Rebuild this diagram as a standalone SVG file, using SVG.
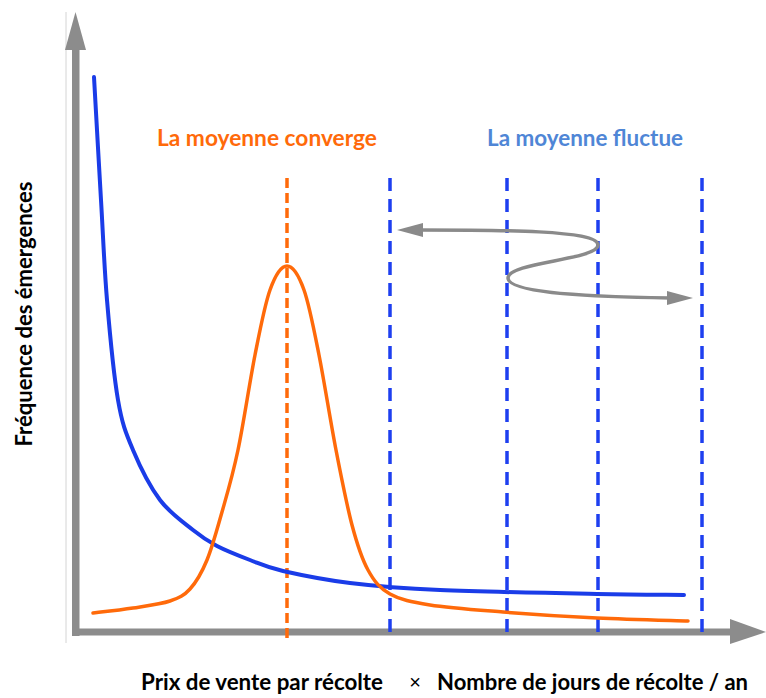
<svg xmlns="http://www.w3.org/2000/svg" width="766" height="698" viewBox="0 0 766 698">
<style>
.lbl{font-family:Lato,"Open Sans","Liberation Sans",sans-serif;font-weight:bold;font-size:23px}
.axis{fill:#8c8c8c}
.bdash{stroke:#1e3ff0;stroke-width:3.5;stroke-dasharray:13 8;fill:none}
.odash{stroke:#ff6a0a;stroke-width:3.5;stroke-dasharray:10 5;fill:none}
.curve{fill:none;stroke-linejoin:round;stroke-linecap:round}
</style>
<rect width="766" height="698" fill="#ffffff"/>
<line x1="66" y1="12" x2="66" y2="643" stroke="#d4d4d4" stroke-width="1"/>
<g id="axes">
<rect class="axis" x="72" y="48" width="7.5" height="588"/>
<polygon class="axis" points="75.5,12 86,50 65,50"/>
<rect class="axis" x="72" y="628.5" width="660" height="7"/>
<polygon class="axis" points="766,632 730,619 730,644"/>
</g>
<g id="dashed-lines">
<line class="odash" x1="287" y1="178" x2="287" y2="640"/>
<line class="bdash" x1="390" y1="178" x2="390" y2="640"/>
<line class="bdash" x1="507" y1="178" x2="507" y2="640"/>
<line class="bdash" x1="598" y1="178" x2="598" y2="640"/>
<line class="bdash" x1="702" y1="178" x2="702" y2="640"/>
</g>
<g id="blue-curve">
<path class="curve" stroke="#1a3ce8" stroke-width="4" d="M94,77 C95.2,97.5 98.8,162.8 101,200 C103.2,237.2 104.2,266.7 107,300 C109.8,333.3 113.7,375 118,400 C122.3,425 126,433.3 133,450 C140,466.7 150,486.7 160,500 C170,513.3 183.5,522.3 193,530 C202.5,537.7 207.5,541 217,546 C226.5,551 239,555.8 250,560 C261,564.2 266.3,567.2 283,571 C299.7,574.8 323.8,579.8 350,583 C376.2,586.2 398.8,588.2 440,590 C481.2,591.8 556.3,593.2 597,594 C637.7,594.8 669.5,594.8 684,595"/>
</g>
<g id="orange-curve">
<path class="curve" stroke="#ff6a0a" stroke-width="3.5" d="M93,613 C99.7,612.2 120.2,610 133,608 C145.8,606 160.5,604.2 170,601 C179.5,597.8 183.8,595.8 190,589 C196.2,582.2 201.7,572.8 207,560 C212.3,547.2 216.8,530.3 222,512 C227.2,493.7 232.5,476.2 238,450 C243.5,423.8 249.7,381.7 255,355 C260.3,328.3 264.7,304.8 270,290 C275.3,275.2 281.3,266 287,266 C292.7,266 298.7,275.2 304,290 C309.3,304.8 313.7,328.3 319,355 C324.3,381.7 330.5,421.7 336,450 C341.5,478.3 346.7,505 352,525 C357.3,545 361.7,558.5 368,570 C374.3,581.5 379.7,588.2 390,594 C400.3,599.8 411.2,602 430,605 C448.8,608 475.2,609.8 503,612 C530.8,614.2 566.2,616.5 597,618 C627.8,619.5 672.8,620.5 688,621"/>
</g>
<g id="fluctuation-arrow">
<path d="M420 230 C500 230 598 230 598 245 C598 260 508 262 508 278 C508 294 600 297 670 298" fill="none" stroke="#8a8a8a" stroke-width="3.5"/>
<polygon points="397,230 423,223 423,237" fill="#8a8a8a"/>
<polygon points="693,298 667,291 667,305" fill="#8a8a8a"/>
</g>
<g id="labels">
<text class="lbl" x="157" y="146" fill="#ff6a0a" textLength="220" lengthAdjust="spacingAndGlyphs">La moyenne converge</text>
<text class="lbl" x="487" y="146" fill="#4f86d6" textLength="196" lengthAdjust="spacingAndGlyphs">La moyenne fluctue</text>
<text class="lbl" transform="translate(32,314) rotate(-90)" text-anchor="middle" fill="#000" textLength="265" lengthAdjust="spacingAndGlyphs">Fréquence des émergences</text>
<text class="lbl" x="141" y="690" fill="#000" textLength="242" lengthAdjust="spacingAndGlyphs">Prix de vente par récolte</text>
<text x="415" y="689" text-anchor="middle" fill="#000" style="font-family:'Liberation Sans',sans-serif;font-size:20px">×</text>
<text class="lbl" x="437" y="690" fill="#000" textLength="311" lengthAdjust="spacingAndGlyphs">Nombre de jours de récolte / an</text>
</g>
</svg>
